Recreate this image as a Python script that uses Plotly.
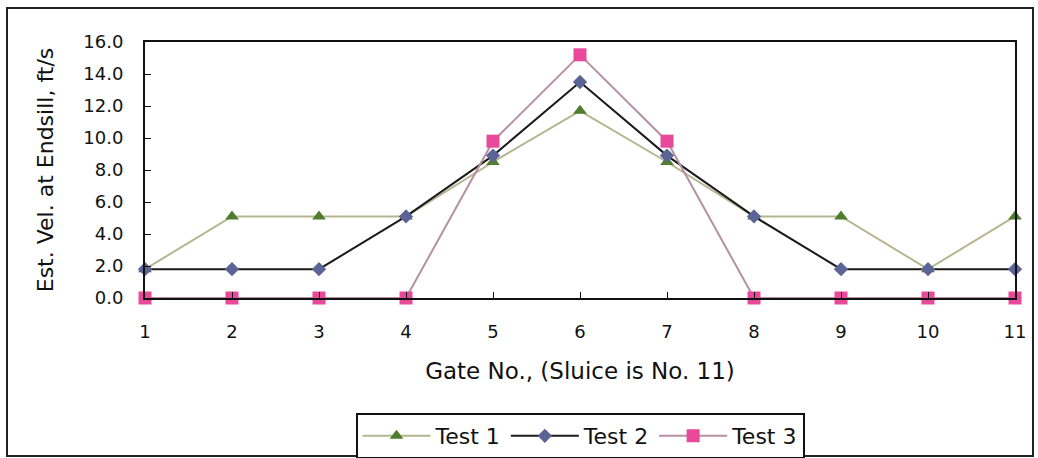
import plotly.graph_objects as go

gates = [1, 2, 3, 4, 5, 6, 7, 8, 9, 10, 11]
test1 = [1.8, 5.1, 5.1, 5.1, 8.5, 11.7, 8.5, 5.1, 5.1, 1.8, 5.1]
test2 = [1.8, 1.8, 1.8, 5.1, 8.9, 13.5, 8.9, 5.1, 1.8, 1.8, 1.8]
test3 = [0.0, 0.0, 0.0, 0.0, 9.8, 15.2, 9.8, 0.0, 0.0, 0.0, 0.0]
y_ticks = [0, 2, 4, 6, 8, 10, 12, 14, 16]

fig = go.Figure()
fig.add_trace(go.Scatter(x=gates, y=test1, name="Test 1", mode="lines+markers", cliponaxis=False,
                         line=dict(color="#b3b68f", width=2),
                         marker=dict(symbol="triangle-up", size=12, color="#4f7d2d")))
fig.add_trace(go.Scatter(x=gates, y=test2, name="Test 2", mode="lines+markers", cliponaxis=False,
                         line=dict(color="#1a1a1a", width=2),
                         marker=dict(symbol="diamond", size=11, color="#5c6397")))
fig.add_trace(go.Scatter(x=gates, y=test3, name="Test 3", mode="lines+markers", cliponaxis=False,
                         line=dict(color="#b790a2", width=2),
                         marker=dict(symbol="square", size=13, color="#e8499a")))

font = "DejaVu Sans, sans-serif"
fig.update_layout(
    width=1038, height=458,
    margin=dict(l=145, r=23, t=42, b=160),
    paper_bgcolor="white", plot_bgcolor="white",
    font=dict(family=font, size=18, color="#111111"),
    showlegend=True,
    legend=dict(orientation="h", x=580 / 1038, xanchor="center", xref="container",
                y=1 - 413 / 458, yanchor="top", yref="container",
                bordercolor="#111111", borderwidth=2, font=dict(size=22),
                itemwidth=68, tracegroupgap=0),
    xaxis=dict(range=[1, 11], tickvals=gates, showgrid=False, zeroline=False, automargin=False,
               showline=True, linecolor="#111111", linewidth=2, mirror=True,
               ticks="inside", ticklen=6, tickcolor="#111111", ticklabelstandoff=16,
               title=dict(text="Gate No., (Sluice is No. 11)", font=dict(size=23), standoff=22),
               tickfont=dict(size=18)),
    yaxis=dict(range=[0, 16], tickvals=y_ticks, tickformat=".1f", showgrid=False, zeroline=False,
               automargin=False,
               showline=True, linecolor="#111111", linewidth=2, mirror=True,
               ticks="inside", ticklen=6, tickcolor="#111111", ticklabelstandoff=16,
               title=dict(text="Est. Vel. at Endsill, ft/s", font=dict(size=22), standoff=24),
               tickfont=dict(size=18)),
    shapes=[dict(type="rect", xref="paper", yref="paper",
                 x0=(7 - 145) / 870, x1=(1033 - 145) / 870,
                 y0=(298 - 456) / 256, y1=(298 - 8) / 256,
                 line=dict(color="#222222", width=2))],
)
fig.write_html("out.html")
